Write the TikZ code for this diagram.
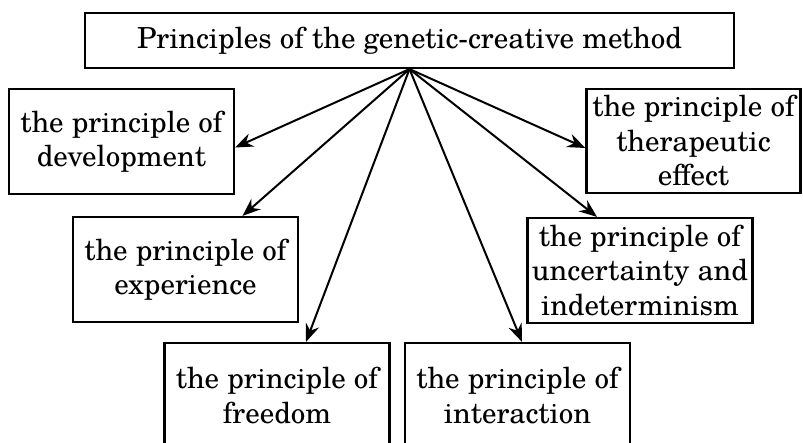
\documentclass[tikz,border=0pt]{standalone}
\usepackage{fontspec}
\setmainfont{texgyreschola-regular.otf}
\usetikzlibrary{arrows.meta}

\begin{document}
\begin{tikzpicture}[x=1pt,y=-1pt,
    box/.style={draw, line width=2.2pt, align=center, inner sep=0pt,
        minimum width=225pt, minimum height=105pt,
        font=\fontsize{29}{34.5}\selectfont},
    arr/.style={-{Stealth[length=18pt,width=14pt,inset=6pt]}, line width=2pt}]
    \useasboundingbox (0,0) rectangle (803,443);
    % title
    \node[box, minimum width=649pt, minimum height=55pt] (title) at (409.5,40.5)
        {Principles of the genetic-creative method};
    % principles, left side
    \node[box] (dev) at (121.5,141.5) {the principle of\\development};
    \node[box] (exp) at (185.5,269.5) {the principle of\\experience};
    \node[box] (free) at (277,395.5) {the principle of\\freedom};
    % principles, right side
    \node[box] (inter) at (517.5,395.5) {the principle of\\interaction};
    \node[box] (unc) at (640,270.5) {the principle of\\uncertainty and\\indeterminism};
    \node[box, minimum width=214pt, minimum height=104pt] (ther) at (693.5,141)
        {the principle of\\therapeutic\\effect};
    % arrows
    \draw[arr] (title.south) -- ([yshift=-6pt]dev.east);
    \draw[arr] (title.south) -- ([xshift=57pt]exp.north);
    \draw[arr] (title.south) -- ([xshift=29pt]free.north);
    \draw[arr] (title.south) -- ([xshift=4.5pt]inter.north);
    \draw[arr] (title.south) -- ([xshift=-43pt]unc.north);
    \draw[arr] (title.south) -- ([yshift=-7pt]ther.west);
\end{tikzpicture}
\end{document}
